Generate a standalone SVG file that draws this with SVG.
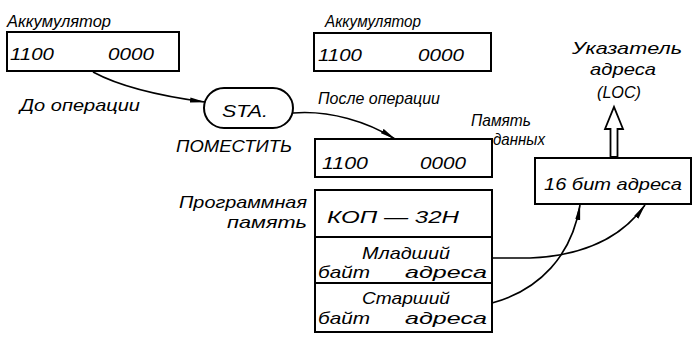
<svg xmlns="http://www.w3.org/2000/svg" width="693" height="342" viewBox="0 0 693 342">
<style>
text{font-family:"Liberation Sans","DejaVu Sans",sans-serif;font-style:italic;font-size:17px;fill:#000}
.box{fill:none;stroke:#000;stroke-width:2}
.wire{fill:none;stroke:#000;stroke-width:1.6}
</style>
<defs>
<marker id="ah" viewBox="0 0 16 6" refX="15" refY="3" markerWidth="16" markerHeight="6" markerUnits="userSpaceOnUse" orient="auto">
<path d="M0,0.5 L16,3 L0,5.5 Z" fill="#000"/>
</marker>
</defs>
<rect width="693" height="342" fill="#fff"/>

<g id="acc-before">
<text x="7" y="27" textLength="104" lengthAdjust="spacingAndGlyphs">Аккумулятор</text>
<rect class="box" x="7" y="32" width="172" height="39"/>
<text x="10" y="60" textLength="44" lengthAdjust="spacingAndGlyphs">1100</text>
<text x="108" y="60" textLength="46" lengthAdjust="spacingAndGlyphs">0000</text>
</g>

<g id="label-before">
<text x="20" y="111" textLength="120" lengthAdjust="spacingAndGlyphs">До операции</text>
</g>

<g id="sta">
<rect class="box" x="204" y="88" width="89" height="40" rx="20" ry="20"/>
<text x="222" y="117" textLength="46" lengthAdjust="spacingAndGlyphs">STA.</text>
<text x="176" y="152" textLength="116" lengthAdjust="spacingAndGlyphs">ПОМЕСТИТЬ</text>
</g>

<g id="acc-after">
<text x="325" y="27" textLength="96" lengthAdjust="spacingAndGlyphs">Аккумулятор</text>
<rect class="box" x="314" y="33" width="177" height="38"/>
<text x="318" y="61" textLength="44" lengthAdjust="spacingAndGlyphs">1100</text>
<text x="418" y="61" textLength="46" lengthAdjust="spacingAndGlyphs">0000</text>
</g>

<g id="label-after">
<text x="318" y="104" textLength="122" lengthAdjust="spacingAndGlyphs">После операции</text>
</g>

<g id="data-mem">
<text x="471" y="126" textLength="60" lengthAdjust="spacingAndGlyphs">Память</text>
<text x="493" y="145" textLength="52" lengthAdjust="spacingAndGlyphs">данных</text>
<rect class="box" x="315" y="139" width="177" height="38"/>
<text x="322" y="169" textLength="46" lengthAdjust="spacingAndGlyphs">1100</text>
<text x="420" y="169" textLength="46" lengthAdjust="spacingAndGlyphs">0000</text>
</g>

<g id="prog-mem">
<text x="307" y="208" text-anchor="end" textLength="128" lengthAdjust="spacingAndGlyphs">Программная</text>
<text x="307" y="228" text-anchor="end" textLength="80" lengthAdjust="spacingAndGlyphs">память</text>
<rect class="box" x="315" y="190" width="177" height="142"/>
<line class="box" x1="315" y1="237" x2="492" y2="237"/>
<line class="box" x1="315" y1="283" x2="492" y2="283"/>
<text x="327" y="223" textLength="132" lengthAdjust="spacingAndGlyphs">КОП — 32Н</text>
<text x="362" y="259" textLength="88" lengthAdjust="spacingAndGlyphs">Младший</text>
<text x="318" y="278" textLength="52" lengthAdjust="spacingAndGlyphs">байт</text>
<text x="405" y="278" textLength="82" lengthAdjust="spacingAndGlyphs">адреса</text>
<text x="362" y="304" textLength="88" lengthAdjust="spacingAndGlyphs">Старший</text>
<text x="318" y="324" textLength="52" lengthAdjust="spacingAndGlyphs">байт</text>
<text x="405" y="324" textLength="82" lengthAdjust="spacingAndGlyphs">адреса</text>
</g>

<g id="addr16">
<rect class="box" x="535" y="158" width="156" height="46"/>
<text x="544" y="190" textLength="138" lengthAdjust="spacingAndGlyphs">16 бит адреса</text>
</g>

<g id="loc">
<text x="572" y="54" textLength="110" lengthAdjust="spacingAndGlyphs">Указатель</text>
<text x="590" y="75" textLength="66" lengthAdjust="spacingAndGlyphs">адреса</text>
<text x="597" y="98" textLength="44" lengthAdjust="spacingAndGlyphs">(LOC)</text>
</g>

<g id="connectors">
<path class="wire" d="M93 72 Q130 92 205 102" marker-end="url(#ah)"/>
<path class="wire" d="M293 113 C330 110 368 122 395 139" marker-end="url(#ah)"/>
<path class="wire" d="M492 258 L530 258 C580 256 620 240 645 205" marker-end="url(#ah)"/>
<path class="wire" d="M492 303 C540 290 572 255 580 205" marker-end="url(#ah)"/>
<polygon points="610.5,157 610.5,129 605,129 614,107 623,129 617.5,129 617.5,157" fill="#fff" stroke="#000" stroke-width="1.8" stroke-linejoin="miter"/>
</g>
</svg>
